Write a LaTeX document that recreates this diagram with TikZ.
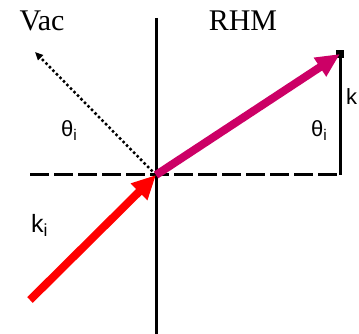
\documentclass[tikz,border=0pt]{standalone}
\usepackage{fontspec}
\setmainfont{Liberation Serif}
\newfontfamily\lblfont{Liberation Sans}
\usetikzlibrary{arrows.meta}
\definecolor{beamred}{RGB}{255,0,0}
\definecolor{beammag}{RGB}{204,0,102}
\begin{document}
\begin{tikzpicture}[x=1pt,y=-1pt,
  axis/.style={line width=3pt},
  dashaxis/.style={line width=3pt,dash pattern=on 19pt off 5pt},
  beam/.style={line width=8pt},
  title/.style={font=\fontsize{30}{31}\selectfont,inner sep=0pt},
  lbl/.style={font=\lblfont\fontsize{22}{23}\selectfont,inner sep=0pt}]
\useasboundingbox (0,0) rectangle (359,334);
\clip (0,0) rectangle (359,334);
\fill[white] (0,0) rectangle (359,334);
% coordinates
\coordinate (O) at (156,175);
\coordinate (vtop) at (156,18);
\coordinate (vbot) at (156,334);
\coordinate (hl) at (30,175);
\coordinate (hr) at (340,175);
\coordinate (rt) at (340,54);
\coordinate (refl) at (35,52);
\coordinate (rtail) at (30,300);
% axes
\draw[axis] (vtop) -- (vbot);
\draw[dashaxis] (hl) -- (hr);
\draw[axis] (hr) -- (rt);
\fill (rt) ++(-4,-4) rectangle ++(8,8);
% reflected (dotted)
\draw[line width=2.5pt,dash pattern=on 2.5pt off 2.5pt,-{Triangle[length=8pt,width=7pt]}] (O) -- (refl);
% incident beam
\draw[beam,beamred,-{Triangle[length=24pt,width=22pt]}] (rtail) -- (O);
% refracted beam
\draw[beam,beammag,-{Triangle[length=24pt,width=21pt]}] (O) -- (rt);
% labels
\node[title] (vac) at (42,21) {Vac};
\node[title] (rhm) at (243,21) {RHM};
\node[lbl,anchor=north west] (thl) at (61,120) {θ\textsubscript{i}};
\node[lbl,anchor=north west] (thr) at (311,120) {θ\textsubscript{i}};
\node[lbl,anchor=north west,font=\lblfont\fontsize{25}{26}\selectfont] (ki) at (31,214) {k\textsubscript{i}};
\node[lbl,anchor=north west] (kr) at (346,88) {k};
\end{tikzpicture}
\end{document}
